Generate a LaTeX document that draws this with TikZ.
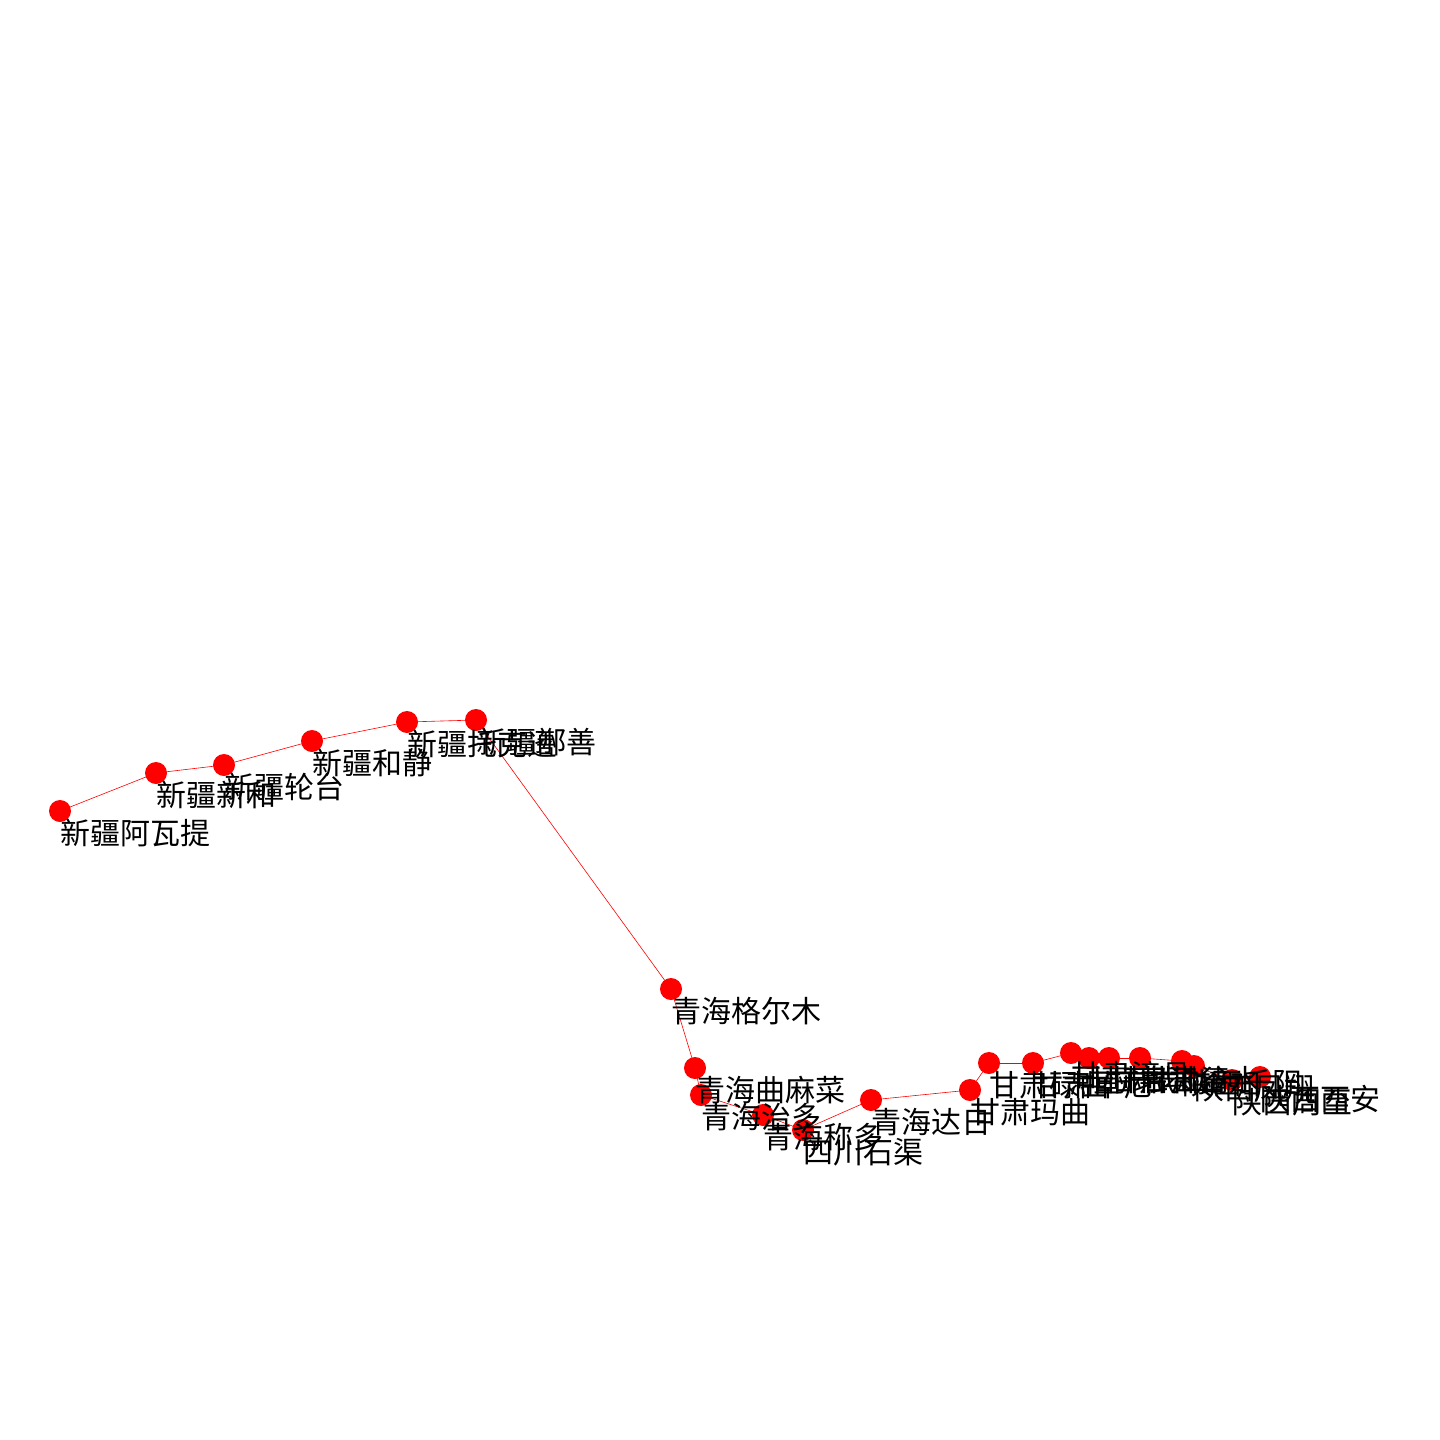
\documentclass[tikz,border=0pt]{standalone}
\usepackage{fontspec}
\newfontfamily\cjk{Noto Sans CJK SC}
\begin{document}
\begin{tikzpicture}[x=1pt,y=-1pt,
  city/.style={circle,fill=red,draw=none,minimum size=22pt,inner sep=0pt},
  lbl/.style={anchor=west,inner sep=0pt,font=\cjk\fontsize{30pt}{30pt}\selectfont,text=black},
  link/.style={draw=red,line width=0.6pt}]
\useasboundingbox (0,0) rectangle (1440,1440);
% node positions
\foreach \n/\x/\y in {a1/60/811,a2/156/773,a3/224/765,a4/312/741,a5/407/722,a6/476/720,
  b1/671/989,b2/695/1068,b3/701/1095,b4/763/1115,b5/803/1130,b6/871/1100,
  c1/970/1090,c2/989/1063,c3/1033/1063,c4/1071/1053,c5/1089/1058,c6/1109/1058,c7/1140/1058,
  d1/1182/1061,d2/1194/1066,d3/1232/1080,d4/1260/1077}
  {\coordinate (p\n) at (\x,\y);}
% edges
\foreach \s/\t in {a1/a2,a2/a3,a3/a4,a4/a5,a5/a6,a6/b1,b1/b2,b2/b3,b3/b4,b4/b5,b5/b6,b6/c1,
  c1/c2,c2/c3,c3/c4,c4/c5,c5/c6,c6/c7,c7/d1,d1/d2,d2/d3,d3/d4}
  {\path[link] (p\s) -- (p\t);}
% nodes
\foreach \n in {a1,a2,a3,a4,a5,a6,b1,b2,b3,b4,b5,b6,c1,c2,c3,c4,c5,c6,c7,d1,d2,d3,d4}
  {\node[city] (\n) at (p\n) {};}
% labels
\foreach \n/\t in {a1/新疆阿瓦提,a2/新疆新和,a3/新疆轮台,a4/新疆和静,a5/新疆托克逊,a6/新疆鄯善,
  b1/青海格尔木,b2/青海曲麻菜,b3/青海治多,b4/青海称多,b5/四川石渠,b6/青海达日,
  c1/甘肃玛曲,c2/甘肃碌曲,c3/甘肃卓尼,c4/甘肃漳县,c5/甘肃武山,c6/甘肃甘谷,c7/甘肃清水,
  d1/陕西千阳,d2/陕西凤翔,d3/陕西周至,d4/陕西西安}
  {\node[lbl] (l\n) at ([shift={(0,22)}]p\n) {\t};}
\end{tikzpicture}
\end{document}
